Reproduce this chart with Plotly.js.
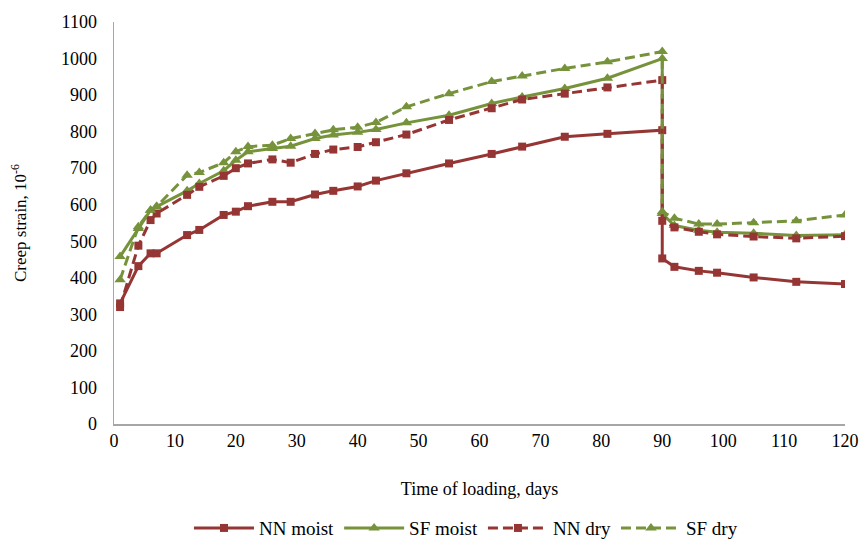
<!DOCTYPE html>
<html>
<head>
<meta charset="utf-8">
<script src="https://cdn.plot.ly/plotly-3.0.1.min.js"></script>
<style>html,body{margin:0;padding:0;background:#fff;}#chart{width:859px;height:545px;}</style>
</head>
<body>
<div id="chart"></div>
<script>
// Time of loading, days
const days = [1, 4, 6, 7, 12, 14, 18, 20, 22, 26, 29, 33, 36, 40, 43, 48, 55, 62, 67, 74, 81, 90, 90, 92, 96, 99, 105, 112, 120];
// Creep strain, 10^-6
const nnMoist = [330, 432, 467, 467, 517, 531, 572, 581, 596, 608, 608, 628, 638, 650, 666, 686, 713, 739, 759, 786, 794, 804, 453, 430, 419, 414, 401, 389, 383];
const sfMoist = [458, 535, 585, 595, 638, 658, 693, 722, 745, 754, 760, 781, 791, 798, 806, 824, 845, 877, 895, 918, 946, 1000, 576, 543, 530, 525, 522, 516, 518];
const nnDry   = [320, 488, 558, 576, 627, 649, 679, 700, 713, 724, 715, 739, 751, 758, 771, 792, 832, 864, 888, 904, 921, 941, 556, 538, 526, 519, 513, 508, 514];
const sfDry   = [395, 540, 585, 595, 681, 688, 715, 745, 759, 763, 781, 795, 805, 812, 825, 868, 904, 937, 952, 973, 991, 1019, 581, 563, 547, 547, 551, 556, 572];
const seriesNames = ["NN moist", "SF moist", "NN dry", "SF dry"];
const xTicks = [0, 10, 20, 30, 40, 50, 60, 70, 80, 90, 100, 110, 120];
const yTicks = [0, 100, 200, 300, 400, 500, 600, 700, 800, 900, 1000, 1100];

const red = "#963634";
const green = "#76933C";
const font = "Liberation Serif";

function tr(name, y, color, dash, symbol, msize) {
  return {
    x: days, y: y, name: name, type: "scatter", mode: "lines+markers",
    line: {color: color, width: 3, dash: dash},
    marker: {color: color, symbol: symbol, size: msize},
    hoverinfo: "skip"
  };
}

const data = [
  tr(seriesNames[0], nnMoist, red, "solid", "square", 8),
  tr(seriesNames[1], sfMoist, green, "solid", "triangle-up", 10),
  tr(seriesNames[2], nnDry, red, "10px,5px", "square", 8),
  tr(seriesNames[3], sfDry, green, "10px,5px", "triangle-up", 10)
];

const layout = {
  width: 859, height: 545,
  margin: {l: 114, r: 14, t: 22, b: 121},
  paper_bgcolor: "#fff", plot_bgcolor: "#fff",
  font: {family: font, size: 18, color: "#000"},
  showlegend: true,
  legend: {orientation: "h", xref: "paper", x: 0.4815, xanchor: "center",
           yref: "container", y: 0.031, yanchor: "middle",
           font: {family: font, size: 19, color: "#000"}, traceorder: "normal", itemwidth: 60},
  xaxis: {
    range: [0, 120], tickmode: "array", tickvals: xTicks, ticktext: xTicks.map(String),
    automargin: false,
    showgrid: false, zeroline: false, showline: true, linecolor: "#A6A6A6", linewidth: 1.5,
    ticks: "", ticklen: 0, ticklabelstandoff: 0, tickfont: {family: font, size: 18, color: "#000"},
    title: {text: "Time of loading, days", font: {family: font, size: 18, color: "#000"}, standoff: 32}
  },
  yaxis: {
    range: [0, 1100], tickmode: "array", tickvals: yTicks, ticktext: yTicks.map(String),
    automargin: false,
    showgrid: false, zeroline: false, showline: true, linecolor: "#A6A6A6", linewidth: 1.5,
    ticks: "", ticklen: 0, ticklabelstandoff: 12, tickfont: {family: font, size: 18, color: "#000"},
    title: {text: "Creep strain, 10<sup>-6</sup>", font: {family: font, size: 17, color: "#000"}, standoff: 30}
  }
};

Plotly.newPlot("chart", data, layout, {displayModeBar: false, staticPlot: true});
</script>
</body>
</html>
